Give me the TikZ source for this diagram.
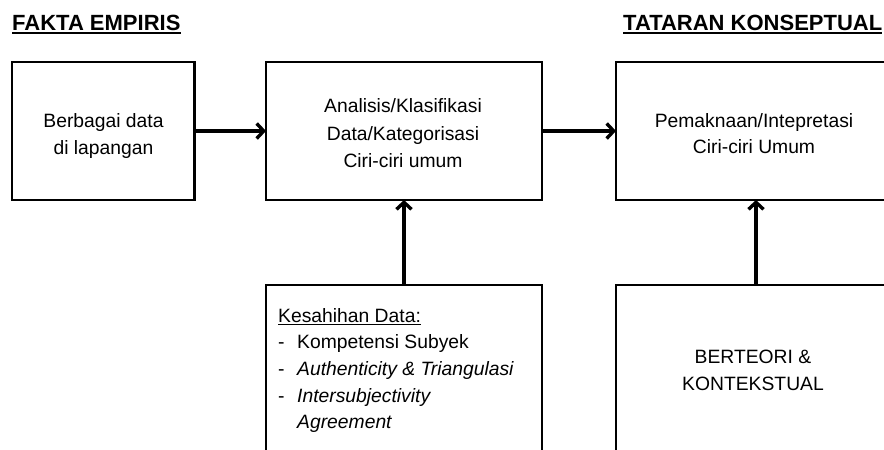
\documentclass[tikz,border=0pt]{standalone}
\usepackage{fontspec}
\setmainfont{Liberation Sans}
\usetikzlibrary{arrows.meta}
\begin{document}
\begin{tikzpicture}[x=1pt,y=-1pt,
  box/.style={draw=black,line width=2.6pt,rectangle,inner sep=0pt,outer sep=0pt},
  conn/.style={line width=3.4pt,-{Straight Barb[length=7pt,width=15pt]}},
  head/.style={font=\fontsize{22}{26}\selectfont\bfseries,inner sep=0pt,anchor=base west},
  txt/.style={font=\fontsize{19.3}{26}\selectfont,inner sep=0pt,anchor=base},
  item/.style={font=\fontsize{19.3}{26}\selectfont,inner sep=0pt,anchor=base west}]
\useasboundingbox (0,0) rectangle (884,450);
\clip (0,0) rectangle (884,450);
% headings
\node[head] (h1) at (12,30) {FAKTA EMPIRIS};
\draw[line width=1.8pt] ([yshift=-3pt]h1.base west) -- ([yshift=-3pt]h1.base east);
\node[head] (h2) at (623,30) {TATARAN KONSEPTUAL};
\draw[line width=1.8pt] ([yshift=-3pt]h2.base west) -- ([yshift=-3pt]h2.base east);
% boxes
\node[box,minimum width=182.5pt,minimum height=138pt] (b1) at (103.25,131) {};
\node[box,minimum width=276pt,minimum height=138pt] (b2) at (404,131) {};
\node[box,minimum width=280pt,minimum height=138pt] (b3) at (756,131) {};
\node[box,minimum width=276pt,minimum height=175pt] (b4) at (404,372.5) {};
\node[box,minimum width=280pt,minimum height=175pt] (b5) at (756,372.5) {};
% box texts
\node[txt] (t11) at (103.5,127) {Berbagai data};
\node[txt] (t12) at (103.5,154) {di lapangan};
\node[txt] (t21) at (403,112) {Analisis/Klasifikasi};
\node[txt] (t22) at (403,140) {Data/Kategorisasi};
\node[txt] (t23) at (403,167) {Ciri-ciri umum};
\node[txt] (t31) at (754,127) {Pemaknaan/Intepretasi};
\node[txt] (t32) at (754,153) {Ciri-ciri Umum};
\node[txt] (t51) at (753,363) {BERTEORI \&};
\node[txt] (t52) at (753,390) {KONTEKSTUAL};
\node[item] (k0) at (278,322) {Kesahihan Data:};
\draw[line width=1pt] ([yshift=-2.5pt]k0.base west) -- ([yshift=-2.5pt]k0.base east);
\node[item] (d1) at (278,348) {-};
\node[item] (k1) at (297,348) {Kompetensi Subyek};
\node[item] (d2) at (278,375) {-};
\node[item] (k2) at (297,375) {\itshape Authenticity \& Triangulasi};
\node[item] (d3) at (278,402) {-};
\node[item] (k3) at (297,402) {\itshape Intersubjectivity};
\node[item] (k4) at (297,428) {\itshape Agreement};
% connectors
\draw[conn] (b1.east) -- (b2.west);
\draw[conn] (b2.east) -- (b3.west);
\draw[conn] (b4.north) -- (b2.south);
\draw[conn] (b5.north) -- (b3.south);
\end{tikzpicture}
\end{document}
